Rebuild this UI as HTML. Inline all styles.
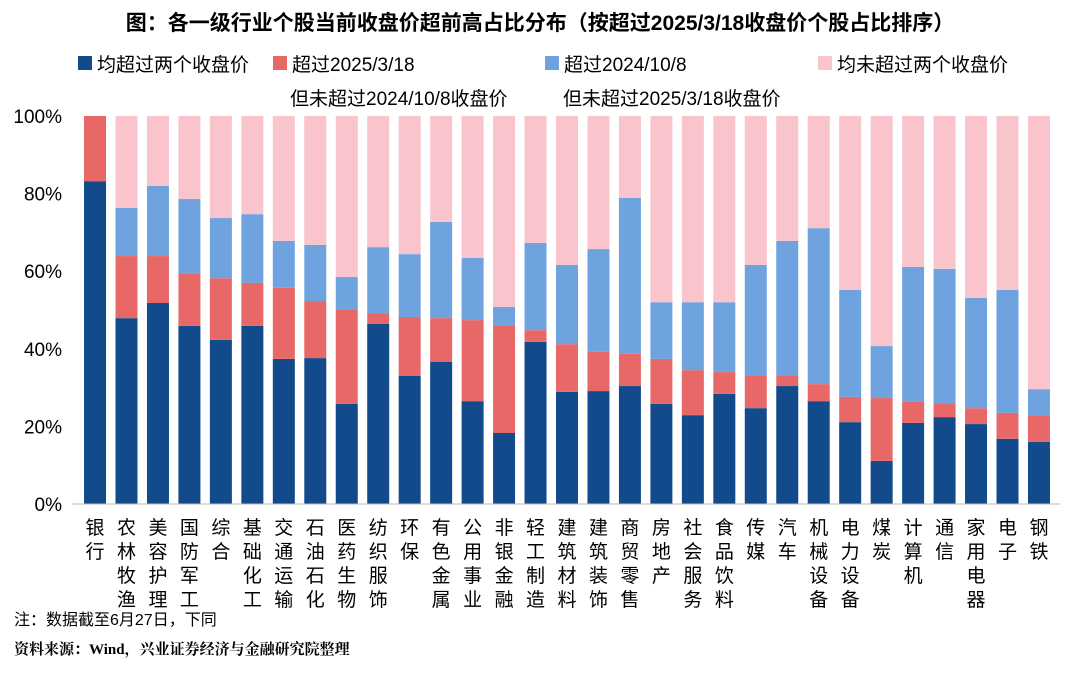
<!DOCTYPE html>
<html><head><meta charset="utf-8">
<style>
body{margin:0;background:#fff;width:1080px;height:674px;overflow:hidden;font-family:"Liberation Sans","Noto Sans CJK SC",sans-serif;}
</style></head>
<body>
<svg id="chart" width="1080" height="674" xmlns="http://www.w3.org/2000/svg">
<text x="540" y="30" text-anchor="middle" font-size="21" font-weight="bold" fill="#000" font-family="Liberation Sans,Noto Sans CJK SC,sans-serif">图：各一级行业个股当前收盘价超前高占比分布（按超过2025/3/18收盘价个股占比排序）</text>
<g font-size="19" fill="#000" font-family="Liberation Sans,Noto Sans CJK SC,sans-serif">
<rect x="78" y="56" width="14" height="14" fill="#124a8c"/>
<text x="97" y="71">均超过两个收盘价</text>
<rect x="273" y="56" width="14" height="14" fill="#e86868"/>
<text x="292" y="71">超过2025/3/18</text>
<text x="290" y="105">但未超过2024/10/8收盘价</text>
<rect x="545" y="56" width="14" height="14" fill="#6fa3df"/>
<text x="564" y="71">超过2024/10/8</text>
<text x="563" y="105">但未超过2025/3/18收盘价</text>
<rect x="818" y="56" width="14" height="14" fill="#f9c4cc"/>
<text x="837" y="71">均未超过两个收盘价</text>
</g>
<g id="plot"></g>
<text x="14" y="625" font-size="16" fill="#000">注：数据截至6月27日，下同</text>
<text x="14" y="654" font-size="15" font-weight="bold" fill="#000" font-family="Liberation Serif,Noto Serif CJK SC,serif">资料来源：Wind，兴业证券经济与金融研究院整理</text>
</svg>
<script>
const categories=["银行","农林牧渔","美容护理","国防军工","综合","基础化工","交通运输","石油石化","医药生物","纺织服饰","环保","有色金属","公用事业","非银金融","轻工制造","建筑材料","建筑装饰","商贸零售","房地产","社会服务","食品饮料","传媒","汽车","机械设备","电力设备","煤炭","计算机","通信","家用电器","电子","钢铁"];
// cumulative tops (%)
const bothTop=[83.2,47.9,51.8,45.9,42.3,45.9,37.4,37.6,25.8,46.4,33.0,36.6,26.5,18.3,41.8,28.9,29.1,30.4,25.8,22.9,28.4,24.7,30.4,26.5,21.1,11.1,20.9,22.4,20.6,16.8,16.0];
const t2025Top=[100,63.9,63.9,59.5,58.2,57.0,55.7,52.3,50.0,49.2,48.2,47.9,47.4,46.1,44.8,41.2,39.2,38.7,37.4,34.5,34.0,33.2,33.2,30.9,27.6,27.3,26.3,26.0,24.7,23.5,22.9];
const t2024Top=[100,76.3,82.0,78.6,73.7,74.7,67.8,66.8,58.5,66.2,64.4,72.7,63.4,50.8,67.3,61.6,65.7,78.9,52.0,52.0,52.0,61.6,67.8,71.1,55.2,40.7,61.1,60.6,53.1,55.2,29.6];
const yTicks=[0,20,40,60,80,100];
const NS="http://www.w3.org/2000/svg";
const g=document.getElementById('plot');
const x0=79.3,x1=1054.7,yTop=116,yBot=504;
const step=(x1-x0)/categories.length, bw=22;
const y=v=>yBot-(v/100)*(yBot-yTop);
const xc=i=>x0+step*(i+0.5);
function mk(t,a){const e=document.createElementNS(NS,t);for(const k in a)e.setAttribute(k,a[k]);g.appendChild(e);return e;}
yTicks.forEach(t=>{const e=mk('text',{x:62,y:y(t)+7,'text-anchor':'end','font-size':19,fill:'#000'});e.textContent=t+'%';

});
const colors=['#124a8c','#e86868','#6fa3df','#f9c4cc'];
const segNames=['bar-both','bar-2025','bar-2024','bar-none'];
categories.forEach((c,i)=>{
 const bounds=[0,bothTop[i],t2025Top[i],t2024Top[i],100];
 for(let s=0;s<4;s++){const lo=bounds[s],hi=bounds[s+1];if(hi-lo<=0)continue;
  const r=mk('rect',{x:xc(i)-bw/2,y:y(hi),width:bw,height:y(lo)-y(hi),fill:colors[s]});
  
  }
 [...c].forEach((ch,k)=>{const t=mk('text',{x:xc(i),y:534+k*24,'text-anchor':'middle','font-size':19,fill:'#000'});t.textContent=ch;
  
  });
});
const ax=mk('line',{x1:72,x2:1060,y1:yBot,y2:yBot,stroke:'#bbb','stroke-width':1});


</script>
</body></html>
